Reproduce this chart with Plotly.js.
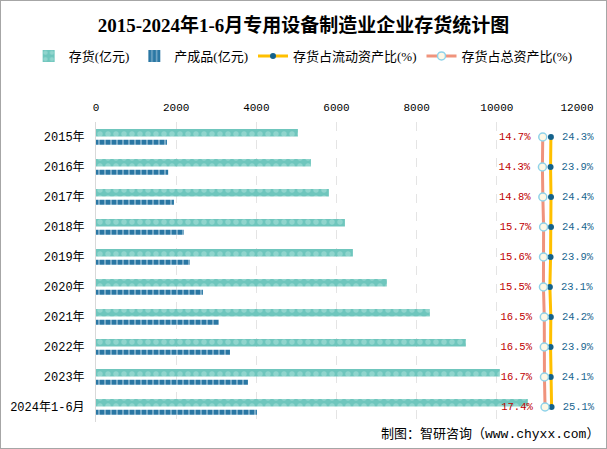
<!DOCTYPE html>
<html>
<head>
<meta charset="utf-8">
<script src="https://cdn.plot.ly/plotly-3.0.1.min.js"></script>
<style>
  html, body { margin: 0; padding: 0; background: #fff; }
  #chart { width: 605px; height: 447px; border: 1px solid #a6a6a6; }
</style>
</head>
<body>
<div id="chart"></div>
<script>
// categories and values
const years = ['2015年', '2016年', '2017年', '2018年', '2019年', '2020年', '2021年', '2022年', '2023年', '2024年1-6月'];
const inventory = [5037, 5362, 5810, 6210, 6409, 7257, 8329, 9227, 10075, 10773];   // 存货(亿元)
const finished = [1770, 1800, 1945, 2195, 2344, 2668, 3067, 3342, 3790, 4015];       // 产成品(亿元)
const currentRatio = [24.3, 23.9, 24.4, 24.4, 23.9, 23.1, 24.2, 23.9, 24.1, 25.1];   // 存货占流动资产比(%)
const totalRatio = [14.7, 14.3, 14.8, 15.7, 15.6, 15.5, 16.5, 16.5, 16.7, 17.4];     // 存货占总资产比(%)
const xTicks = [0, 2000, 4000, 6000, 8000, 10000, 12000];

const SERIF = 'Liberation Serif, Noto Sans CJK SC, serif';
const MONO = 'Liberation Mono, Noto Sans CJK SC, monospace';

const traces = [
  {
    type: 'bar', orientation: 'h', name: '存货(亿元)',
    y: years, x: inventory,
    offset: -0.27, width: 0.25,
    marker: {
      color: '#6fc6bd',
      line: { width: 0 },
      pattern: { shape: '.', fillmode: 'overlay', fgcolor: '#b4e3de', size: 8, solidity: 0.35 },
    },
  },
  {
    type: 'bar', orientation: 'h', name: '产成品(亿元)',
    y: years, x: finished,
    offset: 0.09, width: 0.17,
    marker: {
      color: '#2a77a4',
      line: { width: 0 },
      pattern: { shape: '|', fillmode: 'overlay', fgcolor: '#d6e8f1', size: 6, solidity: 0.3 },
    },
  },
  {
    type: 'scatter', mode: 'lines+markers+text', name: '存货占流动资产比(%)',
    y: years, x: currentRatio, xaxis: 'x2',
    line: { color: '#ffc000', width: 3 },
    marker: { color: '#14628c', size: 6 },
    text: currentRatio.map(v => ' ' + v.toFixed(1) + '%'),
    textposition: 'middle right',
    textfont: { family: MONO, size: 10.5, color: '#1a6690' },
    cliponaxis: false,
  },
  {
    type: 'scatter', mode: 'lines+markers+text', name: '存货占总资产比(%)',
    y: years, x: totalRatio, xaxis: 'x2',
    line: { color: '#f0937c', width: 3 },
    marker: { color: '#fdf8e6', size: 8, line: { color: '#8fd3ea', width: 1.5 } },
    text: totalRatio.map(v => v.toFixed(1) + '% '),
    textposition: 'middle left',
    textfont: { family: MONO, size: 10.5, color: '#c00000' },
    cliponaxis: false,
  },
];

const layout = {
  width: 605, height: 447,
  paper_bgcolor: '#fff', plot_bgcolor: '#fff',
  margin: { l: 95, r: 29, t: 121, b: 26 },
  font: { family: SERIF, size: 12, color: '#000' },
  title: {
    text: '<b>2015-2024年1-6月专用设备制造业企业存货统计图</b>',
    font: { family: SERIF, size: 19, color: '#000' },
    x: 0.5, xanchor: 'center', y: 0.946, yanchor: 'middle',
  },
  showlegend: true,
  legend: {
    orientation: 'h', x: -0.14, xanchor: 'left', y: 1.22, yanchor: 'middle',
    font: { family: SERIF, size: 13, color: '#000' },
    itemwidth: 30, tracegroupgap: 0, bgcolor: 'rgba(0,0,0,0)',
  },
  barmode: 'overlay',
  xaxis: {
    side: 'top', range: [0, 12000], tickvals: xTicks, ticktext: xTicks.map(String),
    showgrid: true, gridcolor: '#e4e4e4', griddash: 'dash', zeroline: false,
    showline: false, ticks: '', ticklabelstandoff: 8, tickfont: { family: MONO, size: 11 },
  },
  xaxis2: {
    overlaying: 'x', side: 'bottom', range: [-511, 55],
    visible: false, showgrid: false, zeroline: false,
  },
  yaxis: {
    type: 'category', range: [years.length - 0.5, -0.5],
    showgrid: false, zeroline: false, showline: true, linecolor: '#d9d9d9', linewidth: 1,
    ticks: '', ticklabelstandoff: 8, tickfont: { family: MONO, size: 12 },
  },
  annotations: [
    {
      text: '制图：智研咨询（www.chyxx.com）',
      xref: 'paper', yref: 'paper', x: 1.05, xanchor: 'right', y: -0.04, yanchor: 'middle',
      showarrow: false, font: { family: MONO, size: 13, color: '#000' },
    },
  ],
};

Plotly.newPlot('chart', traces, layout, { displayModeBar: false, staticPlot: true });
</script>
</body>
</html>
